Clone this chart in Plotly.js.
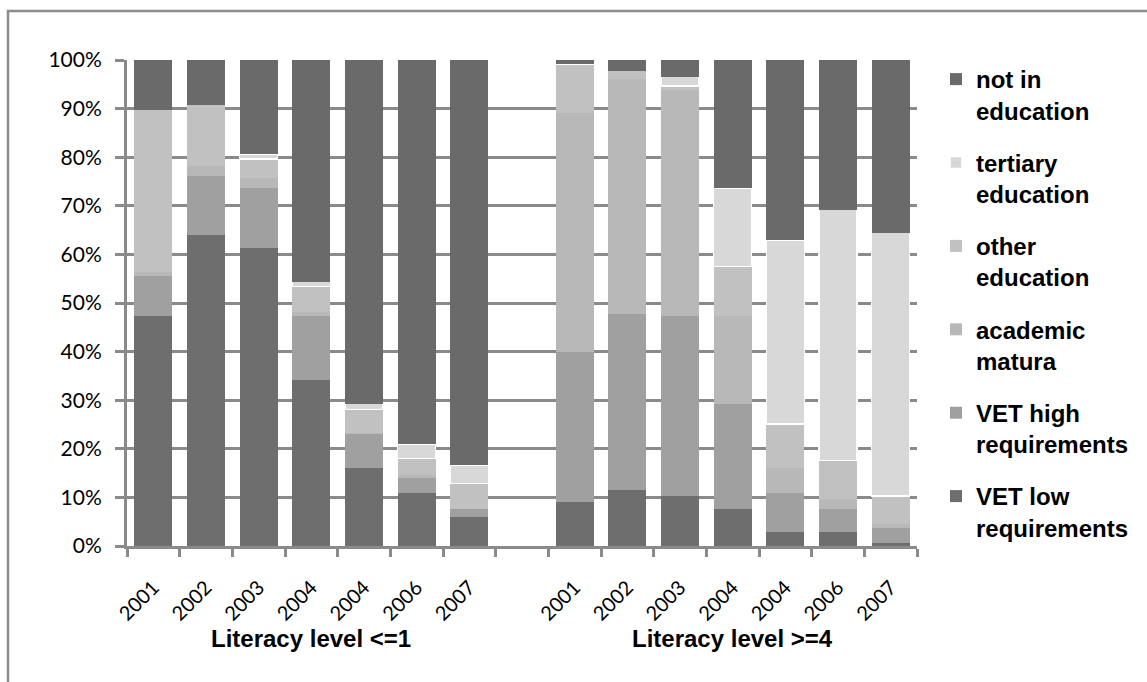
<!DOCTYPE html>
<html>
<head>
<meta charset="utf-8">
<script src="https://cdn.plot.ly/plotly-3.0.1.min.js"></script>
<style>
html,body{margin:0;padding:0;background:#fff;}
#chart{width:1147px;height:682px;}
</style>
</head>
<body>
<div id="chart"></div>
<script>
// ---- data (percent shares) ----
const years = ['2001', '2002', '2003', '2004', '2004', '2006', '2007'];
const groupLabels = ['Literacy level <=1', 'Literacy level >=4'];

// left group: Literacy level <=1, right group: Literacy level >=4
const vetLowLeft      = [47.4, 64.0, 61.3, 34.1, 16.0, 10.9, 5.9];
const vetLowRight     = [9.0, 11.6, 10.2, 7.7, 2.8, 2.8, 0.7];
const vetHighLeft     = [8.2, 12.2, 12.4, 13.2, 7.0, 3.0, 1.8];
const vetHighRight    = [31.0, 36.2, 37.1, 21.5, 8.1, 4.9, 3.1];
const maturaLeft      = [0.8, 1.9, 2.1, 0.8, 0.3, 0.8, 0.0];
const maturaRight     = [49.0, 48.2, 46.6, 18.1, 5.1, 2.0, 0.8];
const otherLeft       = [33.4, 12.7, 3.8, 5.3, 4.8, 3.3, 5.2];
const otherRight      = [10.1, 1.8, 0.8, 10.2, 9.1, 7.9, 5.7];
const tertiaryLeft    = [0.0, 0.0, 1.1, 1.0, 1.2, 2.9, 3.7];
const tertiaryRight   = [0.0, 0.0, 1.9, 16.2, 37.9, 51.6, 54.2];
const notInEduLeft    = [10.2, 9.2, 19.3, 45.6, 70.7, 79.1, 83.4];
const notInEduRight   = [0.9, 2.2, 3.4, 26.3, 37.0, 30.8, 35.5];

const seriesNames = ['VET low<br>requirements', 'VET high<br>requirements', 'academic<br>matura',
                     'other<br>education', 'tertiary<br>education', 'not in<br>education'];

// ---- positions: 7 bars, one empty slot, 7 bars ----
const gapSlots = 1;
const leftX = years.map((_, i) => i);
const rightX = years.map((_, i) => i + years.length + gapSlots);
const allX = leftX.concat(rightX);
const nSlots = years.length * 2 + gapSlots;
const boundaries = Array.from({length: nSlots + 1}, (_, i) => i - 0.5);

const seriesData = [
  [vetLowLeft, vetLowRight],
  [vetHighLeft, vetHighRight],
  [maturaLeft, maturaRight],
  [otherLeft, otherRight],
  [tertiaryLeft, tertiaryRight],
  [notInEduLeft, notInEduRight]
];
const colors = ['#6e6e6e', '#a0a0a0', '#b8b8b8', '#c1c1c1', '#d8d8d8', '#6a6a6a'];

const traces = seriesData.map((pair, k) => ({
  type: 'bar',
  name: seriesNames[k],
  legendgroup: 'g' + k,
  legendrank: 100 - k,
  x: allX,
  y: pair[0].concat(pair[1]),
  marker: {
    color: colors[k],
    line: {color: k === 4 ? '#ffffff' : colors[k], width: k === 4 ? 1.5 : 0}
  },
  hoverinfo: 'skip'
}));

const gridCol = '#8a8a8a';
const plotL = 127, plotR = 230, plotT = 60, plotB = 136;
const W = 1147, H = 682;
const pw = W - plotL - plotR, ph = H - plotT - plotB;
const px = v => (v - plotL) / pw;
const py = v => (H - plotB - v) / ph;

const layout = {
  width: W, height: H,
  margin: {l: plotL, r: plotR, t: plotT, b: plotB, pad: 0},
  paper_bgcolor: '#ffffff',
  plot_bgcolor: '#ffffff',
  barmode: 'stack',
  bargap: 0.28,
  showlegend: true,
  font: {family: 'Lato, "Liberation Sans", sans-serif', color: '#000000'},
  xaxis: {
    type: 'linear',
    range: [-0.5, nSlots - 0.5],
    tickmode: 'array',
    tickvals: allX,
    ticktext: years.concat(years),
    tickangle: -45,
    ticks: '',
    ticklabelstandoff: 19,
    tickfont: {family: 'Lato, sans-serif', size: 20, color: '#000'},
    showgrid: false,
    zeroline: false,
    showline: true,
    linecolor: gridCol,
    linewidth: 3,
    minor: {
      tickmode: 'array',
      tickvals: boundaries,
      ticks: 'outside',
      ticklen: 8,
      tickwidth: 3,
      tickcolor: gridCol,
      showgrid: false
    },
    fixedrange: true
  },
  yaxis: {
    range: [0, 100],
    tickmode: 'linear',
    tick0: 0,
    dtick: 10,
    ticksuffix: '%',
    ticks: 'outside',
    ticklen: 9,
    tickwidth: 3,
    tickcolor: gridCol,
    ticklabelstandoff: 9,
    tickfont: {family: 'Lato, sans-serif', size: 21, color: '#000'},
    showgrid: true,
    gridcolor: gridCol,
    gridwidth: 3,
    zeroline: false,
    showline: true,
    linecolor: gridCol,
    linewidth: 3,
    fixedrange: true
  },
  legend: {
    x: px(936), xanchor: 'left',
    y: py(57), yanchor: 'top',
    traceorder: 'grouped',
    tracegroupgap: 18,
    valign: 'top',
    itemwidth: 30,
    maxheight: 640,
    bgcolor: 'rgba(0,0,0,0)',
    font: {family: '"Liberation Sans", Arial, sans-serif', size: 24, color: '#000', weight: 'bold'}
  },
  annotations: groupLabels.map((t, g) => {
    const xs = g === 0 ? leftX : rightX;
    return {
      text: '<b>' + t.replace('<', '&lt;').replace('>', '&gt;') + '</b>',
      xref: 'x', yref: 'paper',
      x: (xs[0] + xs[xs.length - 1]) / 2,
      y: py(638), yanchor: 'middle', xanchor: 'center',
      showarrow: false,
      font: {family: '"Liberation Sans", Arial, sans-serif', size: 24, color: '#000'}
    };
  }),
  shapes: [{
    type: 'rect', xref: 'paper', yref: 'paper',
    x0: px(8), x1: px(1160), y0: py(700), y1: py(11),
    line: {color: '#8c8c8c', width: 2.5},
    fillcolor: 'rgba(0,0,0,0)',
    layer: 'below'
  }]
};

Plotly.newPlot('chart', traces, layout, {displayModeBar: false, staticPlot: true});
</script>
</body>
</html>
